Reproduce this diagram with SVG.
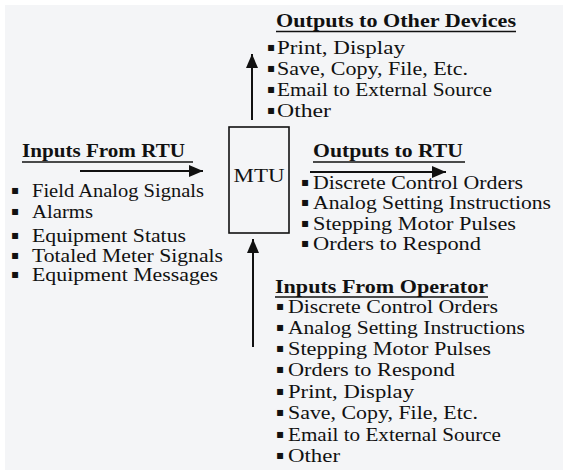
<svg xmlns="http://www.w3.org/2000/svg" width="563" height="470" viewBox="0 0 563 470">
<style>
text{font-family:"Liberation Serif","Times New Roman",serif;font-size:18px;fill:#111;}
.h{font-weight:bold;}
.b{font-family:"DejaVu Sans",sans-serif;font-size:12px;}
.ul{stroke:#111;stroke-width:1.6;}
.box{fill:none;stroke:#111;stroke-width:1.6;}
.c{stroke:#111;stroke-width:2;fill:none;}
</style>
<defs>
<marker id="ah" markerUnits="userSpaceOnUse" markerWidth="16" markerHeight="12" refX="14" refY="6" orient="auto">
<path d="M0,0 L14,6 L0,12 z" fill="#111"/>
</marker>
</defs>
<rect x="0" y="0" width="563" height="470" fill="#ffffff"/>
<rect x="5" y="5" width="558" height="465" fill="#f4f5f7"/>

<g id="mtu">
<rect class="box" x="229" y="127" width="60" height="106"/>
<text x="259" y="182" text-anchor="middle" textLength="51" lengthAdjust="spacingAndGlyphs">MTU</text>
</g>

<g id="outputs-other-devices">
<text class="h" x="276" y="27" textLength="240" lengthAdjust="spacingAndGlyphs">Outputs to Other Devices</text>
<line class="ul" x1="276" y1="31.5" x2="516" y2="31.5"/>
<text class="b" x="267" y="51">▪</text><text x="277" y="54" textLength="128" lengthAdjust="spacingAndGlyphs">Print, Display</text>
<text class="b" x="267" y="72">▪</text><text x="277" y="75" textLength="191" lengthAdjust="spacingAndGlyphs">Save, Copy, File, Etc.</text>
<text class="b" x="267" y="93">▪</text><text x="277" y="96" textLength="215" lengthAdjust="spacingAndGlyphs">Email to External Source</text>
<text class="b" x="267" y="114">▪</text><text x="277" y="117" textLength="54" lengthAdjust="spacingAndGlyphs">Other</text>
</g>

<g id="inputs-from-rtu">
<text class="h" x="22" y="157" textLength="163" lengthAdjust="spacingAndGlyphs">Inputs From RTU</text>
<line class="ul" x1="22" y1="162" x2="193" y2="162"/>
<text class="b" x="11" y="194">▪</text><text x="32" y="197" textLength="172" lengthAdjust="spacingAndGlyphs">Field Analog Signals</text>
<text class="b" x="11" y="215">▪</text><text x="32" y="218" textLength="61" lengthAdjust="spacingAndGlyphs">Alarms</text>
<text class="b" x="11" y="239">▪</text><text x="32" y="242" textLength="154" lengthAdjust="spacingAndGlyphs">Equipment Status</text>
<text class="b" x="11" y="259">▪</text><text x="32" y="262" textLength="191" lengthAdjust="spacingAndGlyphs">Totaled Meter Signals</text>
<text class="b" x="11" y="278">▪</text><text x="32" y="281" textLength="186" lengthAdjust="spacingAndGlyphs">Equipment Messages</text>
</g>

<g id="outputs-to-rtu">
<text class="h" x="313" y="157" textLength="150" lengthAdjust="spacingAndGlyphs">Outputs to RTU</text>
<line class="ul" x1="313" y1="162" x2="465" y2="162"/>
<text class="b" x="301" y="186">▪</text><text x="313" y="189" textLength="210" lengthAdjust="spacingAndGlyphs">Discrete Control Orders</text>
<text class="b" x="301" y="206">▪</text><text x="313" y="209" textLength="238" lengthAdjust="spacingAndGlyphs">Analog Setting Instructions</text>
<text class="b" x="301" y="227">▪</text><text x="313" y="230" textLength="203" lengthAdjust="spacingAndGlyphs">Stepping Motor Pulses</text>
<text class="b" x="301" y="247">▪</text><text x="313" y="250" textLength="168" lengthAdjust="spacingAndGlyphs">Orders to Respond</text>
</g>

<g id="inputs-from-operator">
<text class="h" x="275" y="293" textLength="213" lengthAdjust="spacingAndGlyphs">Inputs From Operator</text>
<line class="ul" x1="275" y1="297" x2="488" y2="297"/>
<text class="b" x="276" y="310">▪</text><text x="288" y="313" textLength="210" lengthAdjust="spacingAndGlyphs">Discrete Control Orders</text>
<text class="b" x="276" y="331">▪</text><text x="288" y="334" textLength="237" lengthAdjust="spacingAndGlyphs">Analog Setting Instructions</text>
<text class="b" x="276" y="352">▪</text><text x="288" y="355" textLength="203" lengthAdjust="spacingAndGlyphs">Stepping Motor Pulses</text>
<text class="b" x="276" y="373">▪</text><text x="288" y="376" textLength="167" lengthAdjust="spacingAndGlyphs">Orders to Respond</text>
<text class="b" x="276" y="395">▪</text><text x="288" y="398" textLength="126" lengthAdjust="spacingAndGlyphs">Print, Display</text>
<text class="b" x="276" y="416">▪</text><text x="288" y="419" textLength="190" lengthAdjust="spacingAndGlyphs">Save, Copy, File, Etc.</text>
<text class="b" x="276" y="438">▪</text><text x="288" y="441" textLength="213" lengthAdjust="spacingAndGlyphs">Email to External Source</text>
<text class="b" x="276" y="459">▪</text><text x="288" y="462" textLength="52" lengthAdjust="spacingAndGlyphs">Other</text>
</g>

<g id="connectors">
<line class="c" x1="252" y1="120" x2="252" y2="54" marker-end="url(#ah)"/>
<line class="c" x1="80" y1="171" x2="203" y2="171" marker-end="url(#ah)"/>
<line class="c" x1="310" y1="172" x2="446" y2="172" marker-end="url(#ah)"/>
<line class="c" x1="253" y1="347" x2="253" y2="239" marker-end="url(#ah)"/>
</g>
</svg>
